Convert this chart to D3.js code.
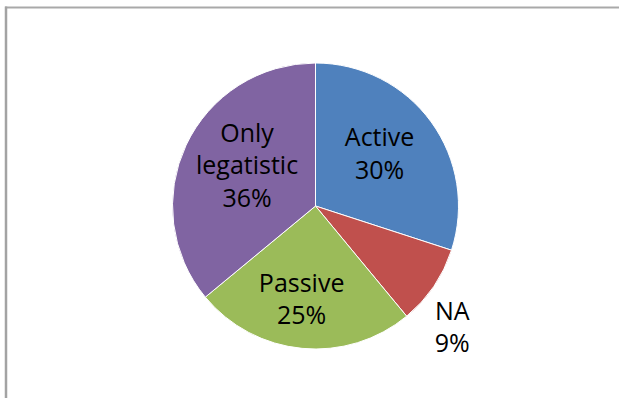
<!DOCTYPE html>
<html>
<head>
<meta charset="utf-8">
<script src="https://cdn.jsdelivr.net/npm/d3@7"></script>
<style>
  html, body { margin: 0; padding: 0; background: #ffffff; }
  svg { display: block; }
  text { font-family: "Open Sans", "DejaVu Sans", sans-serif; }
</style>
</head>
<body>
<svg id="chart" width="619" height="398"></svg>
<script>
// Shares of each category (percent), clockwise from 12 o'clock
const categories = ["Active", "NA", "Passive", "Only legatistic"];
const values = [30, 9, 25, 36];
const labelLines = [["Active"], ["NA"], ["Passive"], ["Only", "legatistic"]];
const colors = ["#4f81bd", "#c0504d", "#9bbb59", "#8064a2"];

const width = 619, height = 398;
const cx = 315.5, cy = 206, radius = 143;

// Label placement: radial distance (fraction of radius) along each slice's mid-angle plus a small nudge
const labelLayout = {
  "Active":          { k: 0.58, dx: -3,  dy: -3.5 },
  "NA":              { k: 1.30, dx: -17, dy: 17 },
  "Passive":         { k: 0.62, dx: -5.5, dy: 5 },
  "Only legatistic": { k: 0.56, dx: 4,   dy: -6.5 }
};

const svg = d3.select("#chart");

// Frame lines along the top and left edge
svg.append("line")
  .attr("x1", 5).attr("x2", width).attr("y1", 7.5).attr("y2", 7.5)
  .attr("stroke", "#a9a9a9").attr("stroke-width", 2);
svg.append("line")
  .attr("x1", 6).attr("x2", 6).attr("y1", 6.5).attr("y2", height)
  .attr("stroke", "#a3a3a3").attr("stroke-width", 2.5);

const data = categories.map((c, i) => ({ category: c, value: values[i], lines: labelLines[i], color: colors[i] }));

const pie = d3.pie().value(d => d.value).sort(null);
const arcs = pie(data);
const arc = d3.arc().innerRadius(0).outerRadius(radius);

const g = svg.append("g").attr("transform", `translate(${cx},${cy})`);

g.selectAll("path.slice")
  .data(arcs)
  .join("path")
  .attr("class", "slice")
  .attr("d", arc)
  .attr("fill", d => d.data.color)
  .attr("stroke", "#ffffff")
  .attr("stroke-width", 1);

const fontSize = 25, lineHeight = 32.5;

g.selectAll("text.label")
  .data(arcs)
  .join("text")
  .attr("class", "label")
  .attr("text-anchor", "middle")
  .attr("font-size", fontSize)
  .attr("fill", "#000000")
  .each(function (d) {
    const lay = labelLayout[d.data.category];
    const mid = (d.startAngle + d.endAngle) / 2;
    const r = radius * lay.k;
    const x = Math.sin(mid) * r + lay.dx;
    const y = -Math.cos(mid) * r + lay.dy;
    const lines = d.data.lines.concat([d3.format(".0f")(d.value) + "%"]);
    const total = (lines.length - 1) * lineHeight;
    const t = d3.select(this);
    lines.forEach((ln, i) => {
      t.append("tspan")
        .attr("x", x)
        .attr("y", y - total / 2 + i * lineHeight)
        .attr("dy", "0.35em")
        .text(ln);
    });
  });
</script>
</body>
</html>
